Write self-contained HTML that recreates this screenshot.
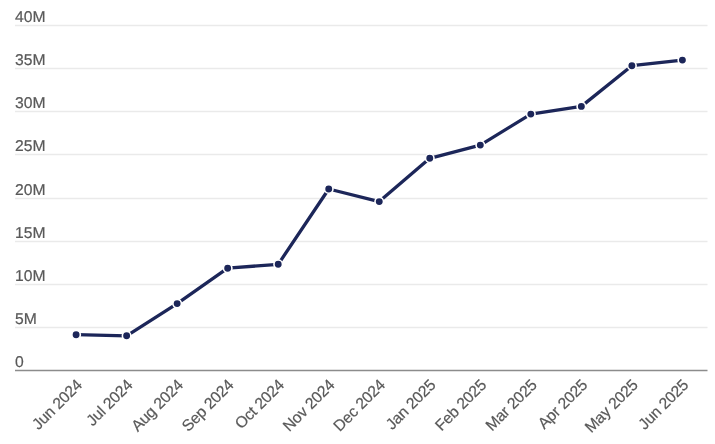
<!DOCTYPE html>
<html><head><meta charset="utf-8"><style>
html,body{margin:0;padding:0;background:#fff;}
svg{display:block;font-family:"Liberation Sans",sans-serif;text-rendering:geometricPrecision;will-change:transform;}
</style></head><body>
<svg width="715" height="444" viewBox="0 0 715 444">
<rect width="715" height="444" fill="#ffffff"/>
<line x1="15" y1="25.50" x2="707.5" y2="25.50" stroke="#eaeaea" stroke-width="1.3"/>
<line x1="15" y1="68.50" x2="707.5" y2="68.50" stroke="#eaeaea" stroke-width="1.3"/>
<line x1="15" y1="111.50" x2="707.5" y2="111.50" stroke="#eaeaea" stroke-width="1.3"/>
<line x1="15" y1="154.50" x2="707.5" y2="154.50" stroke="#eaeaea" stroke-width="1.3"/>
<line x1="15" y1="198.50" x2="707.5" y2="198.50" stroke="#eaeaea" stroke-width="1.3"/>
<line x1="15" y1="241.50" x2="707.5" y2="241.50" stroke="#eaeaea" stroke-width="1.3"/>
<line x1="15" y1="284.50" x2="707.5" y2="284.50" stroke="#eaeaea" stroke-width="1.3"/>
<line x1="15" y1="327.50" x2="707.5" y2="327.50" stroke="#eaeaea" stroke-width="1.3"/>
<line x1="15" y1="370.5" x2="707.5" y2="370.5" stroke="#8c8c8c" stroke-width="1.3"/>
<text x="15" y="21.70" font-size="15.7" fill="#595959" stroke="#595959" stroke-width="0.2">40M</text>
<text x="15" y="64.70" font-size="15.7" fill="#595959" stroke="#595959" stroke-width="0.2">35M</text>
<text x="15" y="107.70" font-size="15.7" fill="#595959" stroke="#595959" stroke-width="0.2">30M</text>
<text x="15" y="150.70" font-size="15.7" fill="#595959" stroke="#595959" stroke-width="0.2">25M</text>
<text x="15" y="194.70" font-size="15.7" fill="#595959" stroke="#595959" stroke-width="0.2">20M</text>
<text x="15" y="237.70" font-size="15.7" fill="#595959" stroke="#595959" stroke-width="0.2">15M</text>
<text x="15" y="280.70" font-size="15.7" fill="#595959" stroke="#595959" stroke-width="0.2">10M</text>
<text x="15" y="323.70" font-size="15.7" fill="#595959" stroke="#595959" stroke-width="0.2">5M</text>
<text x="15" y="366.70" font-size="15.7" fill="#595959" stroke="#595959" stroke-width="0.2">0</text>
<text x="83.00" y="385.9" font-size="15.7" fill="#595959" stroke="#595959" stroke-width="0.2" letter-spacing="-0.2" text-anchor="end" transform="rotate(-45 83.00 385.9)">Jun 2024</text>
<text x="133.53" y="385.9" font-size="15.7" fill="#595959" stroke="#595959" stroke-width="0.2" letter-spacing="-0.2" text-anchor="end" transform="rotate(-45 133.53 385.9)">Jul 2024</text>
<text x="184.05" y="385.9" font-size="15.7" fill="#595959" stroke="#595959" stroke-width="0.2" letter-spacing="-0.2" text-anchor="end" transform="rotate(-45 184.05 385.9)">Aug 2024</text>
<text x="234.57" y="385.9" font-size="15.7" fill="#595959" stroke="#595959" stroke-width="0.2" letter-spacing="-0.2" text-anchor="end" transform="rotate(-45 234.57 385.9)">Sep 2024</text>
<text x="285.10" y="385.9" font-size="15.7" fill="#595959" stroke="#595959" stroke-width="0.2" letter-spacing="-0.2" text-anchor="end" transform="rotate(-45 285.10 385.9)">Oct 2024</text>
<text x="335.62" y="385.9" font-size="15.7" fill="#595959" stroke="#595959" stroke-width="0.2" letter-spacing="-0.2" text-anchor="end" transform="rotate(-45 335.62 385.9)">Nov 2024</text>
<text x="386.15" y="385.9" font-size="15.7" fill="#595959" stroke="#595959" stroke-width="0.2" letter-spacing="-0.2" text-anchor="end" transform="rotate(-45 386.15 385.9)">Dec 2024</text>
<text x="436.67" y="385.9" font-size="15.7" fill="#595959" stroke="#595959" stroke-width="0.2" letter-spacing="-0.2" text-anchor="end" transform="rotate(-45 436.67 385.9)">Jan 2025</text>
<text x="487.20" y="385.9" font-size="15.7" fill="#595959" stroke="#595959" stroke-width="0.2" letter-spacing="-0.2" text-anchor="end" transform="rotate(-45 487.20 385.9)">Feb 2025</text>
<text x="537.72" y="385.9" font-size="15.7" fill="#595959" stroke="#595959" stroke-width="0.2" letter-spacing="-0.2" text-anchor="end" transform="rotate(-45 537.72 385.9)">Mar 2025</text>
<text x="588.25" y="385.9" font-size="15.7" fill="#595959" stroke="#595959" stroke-width="0.2" letter-spacing="-0.2" text-anchor="end" transform="rotate(-45 588.25 385.9)">Apr 2025</text>
<text x="638.77" y="385.9" font-size="15.7" fill="#595959" stroke="#595959" stroke-width="0.2" letter-spacing="-0.2" text-anchor="end" transform="rotate(-45 638.77 385.9)">May 2025</text>
<text x="689.30" y="385.9" font-size="15.7" fill="#595959" stroke="#595959" stroke-width="0.2" letter-spacing="-0.2" text-anchor="end" transform="rotate(-45 689.30 385.9)">Jun 2025</text>
<path d="M76.10,334.70 L126.62,335.80 L177.15,303.60 L227.67,268.20 L278.20,264.30 L328.73,189.00 L379.25,201.60 L429.77,158.30 L480.30,145.10 L530.82,114.10 L581.35,106.40 L631.88,65.70 L682.40,60.10" fill="none" stroke="#1c2659" stroke-width="3.3" stroke-linejoin="round" stroke-linecap="butt"/>
<circle cx="76.10" cy="334.70" r="4.25" fill="#1c2659" stroke="#ffffff" stroke-width="1.6"/>
<circle cx="126.62" cy="335.80" r="4.25" fill="#1c2659" stroke="#ffffff" stroke-width="1.6"/>
<circle cx="177.15" cy="303.60" r="4.25" fill="#1c2659" stroke="#ffffff" stroke-width="1.6"/>
<circle cx="227.67" cy="268.20" r="4.25" fill="#1c2659" stroke="#ffffff" stroke-width="1.6"/>
<circle cx="278.20" cy="264.30" r="4.25" fill="#1c2659" stroke="#ffffff" stroke-width="1.6"/>
<circle cx="328.73" cy="189.00" r="4.25" fill="#1c2659" stroke="#ffffff" stroke-width="1.6"/>
<circle cx="379.25" cy="201.60" r="4.25" fill="#1c2659" stroke="#ffffff" stroke-width="1.6"/>
<circle cx="429.77" cy="158.30" r="4.25" fill="#1c2659" stroke="#ffffff" stroke-width="1.6"/>
<circle cx="480.30" cy="145.10" r="4.25" fill="#1c2659" stroke="#ffffff" stroke-width="1.6"/>
<circle cx="530.82" cy="114.10" r="4.25" fill="#1c2659" stroke="#ffffff" stroke-width="1.6"/>
<circle cx="581.35" cy="106.40" r="4.25" fill="#1c2659" stroke="#ffffff" stroke-width="1.6"/>
<circle cx="631.88" cy="65.70" r="4.25" fill="#1c2659" stroke="#ffffff" stroke-width="1.6"/>
<circle cx="682.40" cy="60.10" r="4.25" fill="#1c2659" stroke="#ffffff" stroke-width="1.6"/>
</svg>
</body></html>
